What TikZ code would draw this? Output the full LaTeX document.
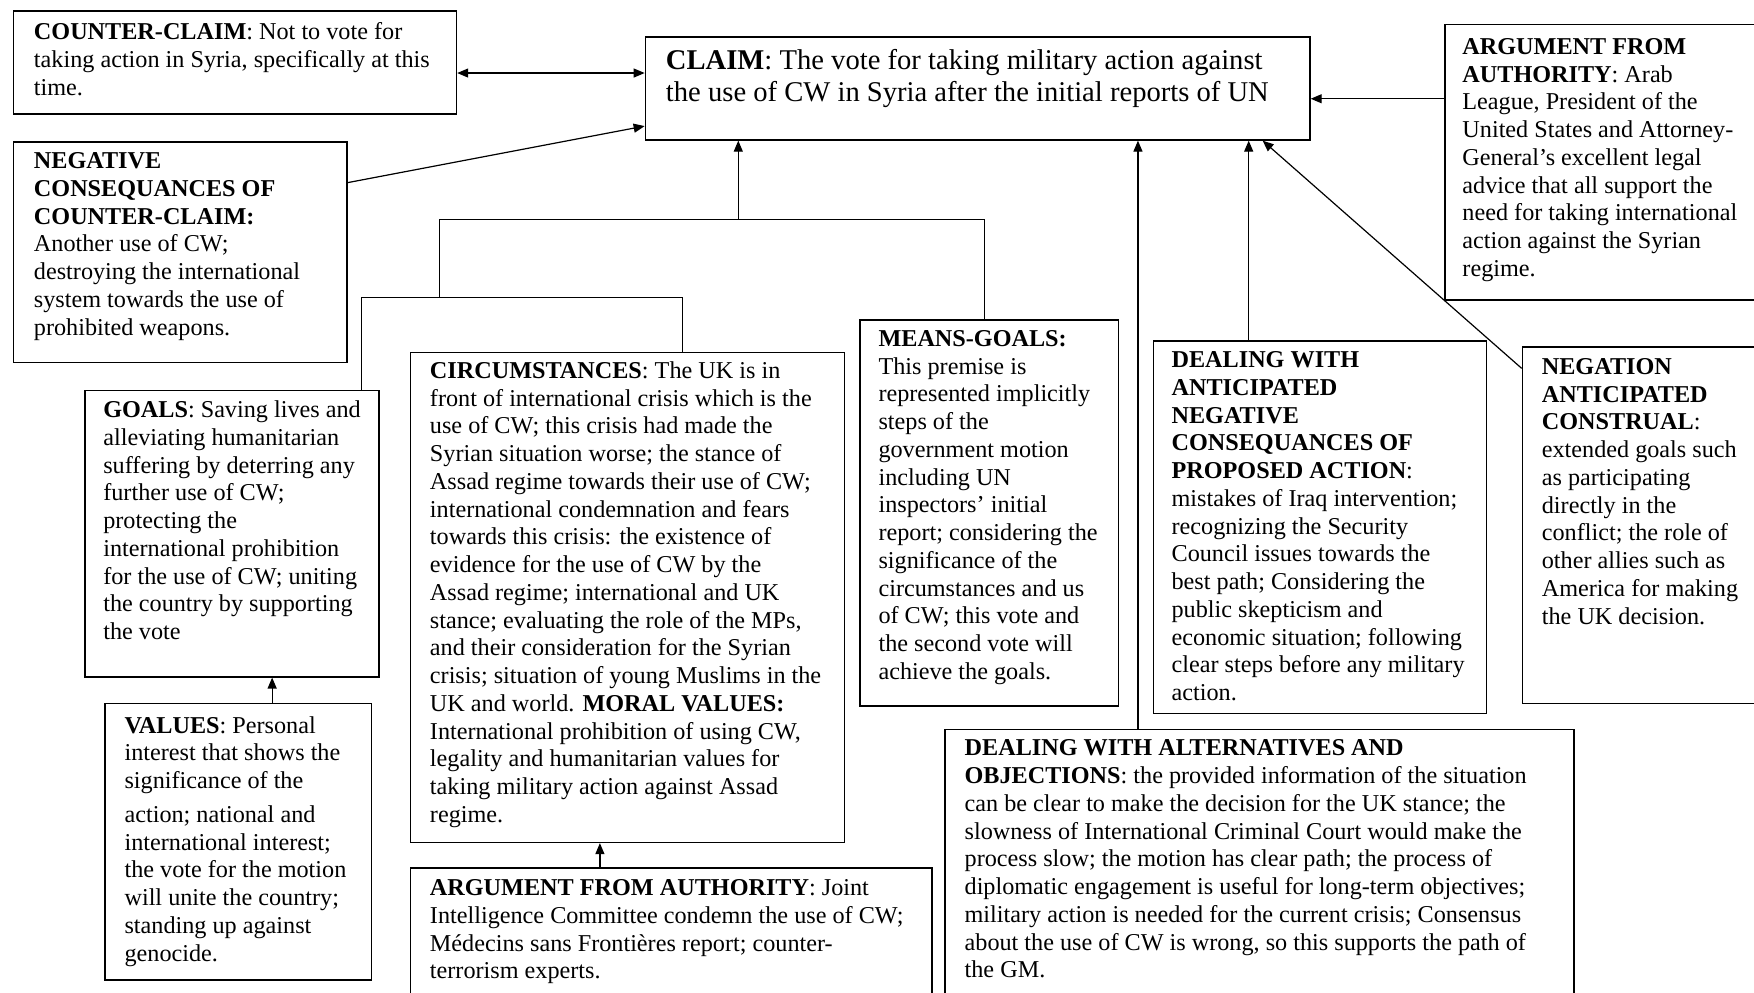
\documentclass[tikz,border=0pt]{standalone}
\usepackage{fontspec}
\setmainfont{Liberation Serif}
\usetikzlibrary{arrows.meta,calc,fit}
\tikzset{
  boxst/.style={draw=black, line width=0.8pt, inner sep=0pt},
  txt/.style={anchor=north west, inner sep=0pt, align=left, font=\fontsize{12.1}{13.87}\selectfont},
  bigtxt/.style={anchor=north west, inner sep=0pt, align=left, font=\fontsize{14.3}{15.7}\selectfont},
  conn/.style={line width=0.6pt, draw=black},
  arr/.style={conn, -{Triangle[length=5.5pt,width=4.5pt]}},
  dblarr/.style={conn, {Triangle[length=5.5pt,width=4.5pt]}-{Triangle[length=5.5pt,width=4.5pt]}}
}
\begin{document}
\begin{tikzpicture}[x=0.5593pt,y=-0.5593pt]
\useasboundingbox (0,0) rectangle (1568,887);
\fill[white] (0,0) rectangle (1568,887);
\clip (0,0) rectangle (1568,887);

% boxes
\node[boxst, fit={(12,10) (408,102)}] (cc) {};
\node[boxst, fit={(577,33) (1171,125)}] (claim) {};
\node[boxst, fit={(1292,22) (1590,268)}] (afa) {};
\node[boxst, fit={(12,127) (310,324)}] (negcons) {};
\node[boxst, fit={(76,349) (339,605)}] (goals) {};
\node[boxst, fit={(94,629) (332,876)}] (values) {};
\node[boxst, fit={(367,315) (755,753)}] (circ) {};
\node[boxst, fit={(367,776) (833,900)}] (jafa) {};
\node[boxst, fit={(769,286) (1000,631)}] (means) {};
\node[boxst, fit={(1031,305) (1329,638)}] (dant) {};
\node[boxst, fit={(1361,310) (1590,629)}] (neg) {};
\node[boxst, fit={(845,652) (1407,900)}] (dalt) {};

% texts
\node[txt] (cc-t) at (30,20) {\textbf{COUNTER-CLAIM}: Not to vote for\\taking action in Syria, specifically at this\\time.};
\node[bigtxt] (claim-t) at (595,44) {\textbf{CLAIM}: The vote for taking military action against\\the use of CW in Syria after the initial reports of UN};
\node[txt] (afa-t) at (1307,34) {\textbf{ARGUMENT FROM}\\\textbf{AUTHORITY}: Arab\\League, President of the\\United States and Attorney-\\General’s excellent legal\\advice that all support the\\need for taking international\\action against the Syrian\\regime.};
\node[txt] (negcons-t) at (30,136) {\textbf{NEGATIVE}\\\textbf{CONSEQUANCES OF}\\\textbf{COUNTER-CLAIM:}\\Another use of CW;\\destroying the international\\system towards the use of\\prohibited weapons.};
\node[txt] (goals-t) at (92,358) {\textbf{GOALS}: Saving lives and\\alleviating humanitarian\\suffering by deterring any\\further use of CW;\\protecting the\\international prohibition\\for the use of CW; uniting\\the country by supporting\\the vote};
\node[txt] (values-t) at (111,640) {\textbf{VALUES}: Personal\\interest that shows the\\significance of the\\[3pt]action; national and\\international interest;\\the vote for the motion\\will unite the country;\\standing up against\\genocide.};
\node[txt] (circ-t) at (384,323) {\textbf{CIRCUMSTANCES}: The UK is in\\front of international crisis which is the\\use of CW; this crisis had made the\\Syrian situation worse; the stance of\\Assad regime towards their use of CW;\\international condemnation and fears\\towards this crisis: the existence of\\evidence for the use of CW by the\\Assad regime; international and UK\\stance; evaluating the role of the MPs,\\and their consideration for the Syrian\\crisis; situation of young Muslims in the\\UK and world. \textbf{MORAL VALUES:}\\International prohibition of using CW,\\legality and humanitarian values for\\taking military action against Assad\\regime.};
\node[txt] (jafa-t) at (384,786) {\textbf{ARGUMENT FROM AUTHORITY}: Joint\\Intelligence Committee condemn the use of CW;\\Médecins sans Frontières report; counter-\\terrorism experts.};
\node[txt] (means-t) at (785,295) {\textbf{MEANS-GOALS:}\\This premise is\\represented implicitly\\steps of the\\government motion\\including UN\\inspectors’ initial\\report; considering the\\significance of the\\circumstances and us\\of CW; this vote and\\the second vote will\\achieve the goals.};
\node[txt] (dant-t) at (1047,314) {\textbf{DEALING WITH}\\\textbf{ANTICIPATED}\\\textbf{NEGATIVE}\\\textbf{CONSEQUANCES OF}\\\textbf{PROPOSED ACTION}:\\mistakes of Iraq intervention;\\recognizing the Security\\Council issues towards the\\best path; Considering the\\public skepticism and\\economic situation; following\\clear steps before any military\\action.};
\node[txt] (neg-t) at (1378,320) {\textbf{NEGATION}\\\textbf{ANTICIPATED}\\\textbf{CONSTRUAL}:\\extended goals such\\as participating\\directly in the\\conflict; the role of\\other allies such as\\America for making\\the UK decision.};
\node[txt] (dalt-t) at (862,661) {\textbf{DEALING WITH ALTERNATIVES AND}\\\textbf{OBJECTIONS}: the provided information of the situation\\can be clear to make the decision for the UK stance; the\\slowness of International Criminal Court would make the\\process slow; the motion has clear path; the process of\\diplomatic engagement is useful for long-term objectives;\\military action is needed for the current crisis; Consensus\\about the use of CW is wrong, so this supports the path of\\the GM.};

% connector anchor points
\coordinate (ccA) at ($(cc.north east)+(0,56)$);
\coordinate (afaA) at ($(afa.north west)+(0,67)$);
\coordinate (ncA) at ($(negcons.north east)+(0,37)$);
\coordinate (clA) at ($(claim.south west)+(0,-13)$);
\coordinate (daltA) at ($(dalt.north west)+(173,0)$);
\coordinate (dantA) at ($(dant.north west)+(86,0)$);
\coordinate (negA) at ($(neg.north west)+(0,20)$);
\coordinate (clB) at ($(claim.south east)+(-43,0)$);
\coordinate (valA) at ($(values.north west)+(150,0)$);
\coordinate (jafaA) at ($(jafa.north west)+(170,0)$);

% connectors
\draw[dblarr] (ccA) -- (ccA -| claim.west);
\draw[arr] (ncA) -- (clA);
\draw[arr] (afaA) -- (afaA -| claim.east);

\coordinate (j1) at (660,196);
\coordinate (jA) at (393,196);
\coordinate (jB) at (393,266);
\coordinate (jG) at (323,266);
\coordinate (jC) at (610,266);
\coordinate (jM) at (880,196);
\draw[arr] (j1) -- (j1 |- claim.south);
\draw[conn] (jM |- means.north) -- (jM) -- (jA) -- (jB);
\draw[conn] (jG |- goals.north) -- (jG) -- (jC) -- (jC |- circ.north);

\draw[arr] (daltA) -- (daltA |- claim.south);
\draw[arr] (dantA) -- (dantA |- claim.south);
\draw[arr] (negA) -- (clB);
\draw[arr] (valA) -- (valA |- goals.south);
\draw[arr] (jafaA) -- (jafaA |- circ.south);
\end{tikzpicture}
\end{document}
